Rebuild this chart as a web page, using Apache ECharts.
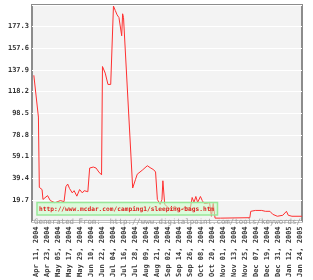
<!DOCTYPE html>
<html>
<head>
<meta charset="utf-8">
<script src="https://cdn.jsdelivr.net/npm/echarts@6/dist/echarts.min.js"></script>
<style>
  html, body { margin: 0; padding: 0; background: #fff; }
  #main { width: 313px; height: 280px; }
</style>
</head>
<body>
<div id="main"></div>
<script>
// first day on the axis, number of days shown
var startDay = Date.UTC(2004, 3, 6);
var nDays = 296;
var months = ['Jan', 'Feb', 'Mar', 'Apr', 'May', 'Jun', 'Jul', 'Aug', 'Sep', 'Oct', 'Nov', 'Dec'];

// days (offset from startDay) where the line changes direction, and the value there
var dayIdx = [2, 4, 7, 8, 11, 12, 14, 17, 20, 25, 31, 35, 37, 39, 41, 44, 46, 49, 52, 55,
    57, 61, 63, 67, 70, 73, 76, 77, 80, 82, 83, 85, 86, 89, 91, 93, 95, 97, 98, 99,
    100, 110, 113, 115, 118, 121, 126, 129, 133, 135, 137, 140, 142, 143, 144, 145, 151, 156, 162, 167,
    173, 175, 177, 179, 181, 184, 186, 188, 191, 194, 196, 197, 198, 199, 200, 206, 238, 239, 244, 251,
    255, 260, 263, 268, 274, 278, 280, 284, 295];
var positions = [133, 133, 95, 31, 29, 20, 19, 23.5, 19, 17, 19, 18, 31.6, 34, 30, 26, 28, 23, 29, 26,
    28, 27, 48.6, 49.5, 48.6, 45, 42.4, 141, 135, 135.5, 124.7, 126.5, 124.7, 196, 192, 188, 185.6, 185.6, 169, 189,
    185.6, 30.4, 38, 43, 45, 47, 50.7, 49, 47, 45, 20, 15.5, 20, 37, 37, 15.5, 11, 13.7, 10, 12.8,
    12, 21.8, 17.3, 22.7, 17.3, 22.7, 19, 16.4, 16.4, 17.3, 4.7, 4.7, 16.4, 16.4, 3, 3, 3.4, 9.2, 10, 10,
    9.2, 9.2, 6.5, 4.7, 5.6, 9.2, 5.6, 4.7, 4.7];

var keywordUrl = 'http://www.mcdar.com/camping1/sleeping-bags.htm';
var sourceText = 'Generated From:  http://www.digitalpoint.com/tools/keywords/';

var days = [];
for (var i = 0; i < nDays; i++) {
    var d = new Date(startDay + i * 86400000);
    var dd = d.getUTCDate();
    days.push(months[d.getUTCMonth()] + ' ' + (dd < 10 ? '0' + dd : dd) + ', ' + d.getUTCFullYear());
}

var data = [];
for (var j = 0; j < dayIdx.length; j++) {
    data.push([dayIdx[j], positions[j]]);
}

var mChart = echarts.init(document.getElementById('main'));
var option = {
    animation: false,
    grid: {
        left: 32,
        right: 11,
        top: 5,
        bottom: 53,
        show: true,
        backgroundColor: '#f3f3f3',
        borderColor: '#8c8c8c',
        borderWidth: 2
    },
    xAxis: {
        type: 'category',
        data: days,
        boundaryGap: false,
        axisLine: {show: false},
        axisTick: {show: false},
        splitLine: {show: false},
        axisLabel: {
            interval: function (idx) { return (idx - 5) % 12 === 0; },
            rotate: 90,
            margin: 5,
            fontSize: 7,
            fontFamily: 'DejaVu Sans Mono',
            fontWeight: 'bold',
            color: '#3a3a3a'
        }
    },
    yAxis: {
        type: 'value',
        min: 0,
        max: 197,
        interval: 19.7,
        axisLine: {show: false},
        axisTick: {show: false},
        splitLine: {lineStyle: {color: '#ffffff', width: 1}},
        axisLabel: {
            margin: 3,
            fontSize: 7,
            fontFamily: 'DejaVu Sans Mono',
            fontWeight: 'bold',
            color: '#333',
            formatter: function (v) {
                if (v <= 0 || v >= 196.9) return '';
                return v.toFixed(1);
            }
        }
    },
    series: [{
        type: 'line',
        data: data,
        showSymbol: false,
        lineStyle: {color: '#ff3030', width: 1},
        z: 2
    }],
    graphic: [
        {
            type: 'rect',
            shape: {x: 37, y: 202.5, width: 180.5, height: 12.5},
            style: {fill: 'rgba(200,255,200,0.55)', stroke: '#99e899', lineWidth: 1.5},
            z: 10
        },
        {
            type: 'text',
            x: 39, y: 209,
            style: {
                text: keywordUrl,
                fill: '#e02020',
                font: 'bold 6.2px "DejaVu Sans Mono"',
                verticalAlign: 'middle'
            },
            z: 11
        },
        {
            type: 'text',
            x: 34, y: 222,
            style: {
                text: sourceText,
                fill: '#9a9a9a',
                font: '7.4px "DejaVu Sans Mono"',
                verticalAlign: 'middle'
            },
            z: 11
        }
    ]
};
mChart.setOption(option);
</script>
</body>
</html>
